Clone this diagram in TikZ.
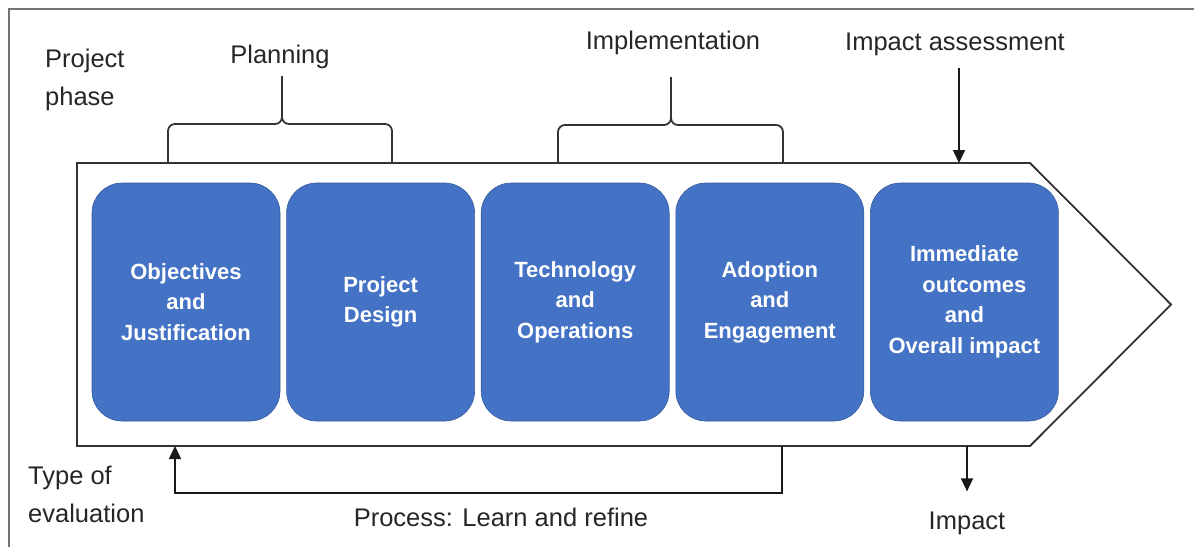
\documentclass[tikz,border=0pt]{standalone}
\usepackage{fontspec}
\setmainfont{Liberation Sans}
\usetikzlibrary{%
	positioning,
	calc,
	arrows.meta
}
\definecolor{stepblue}{HTML}{4472C4}

\begin{document}
\begin{tikzpicture}[x=1pt,y=-1pt,
		SStep/.style={draw=stepblue!80!black,line width=.6pt,fill=stepblue,rounded corners=30pt,minimum width=188pt,minimum height=238pt,text=white,font=\fontsize{22}{30.5}\selectfont\bfseries,align=center,inner sep=0pt},
		title/.style={font=\fontsize{25.5}{38}\selectfont,text=black!85,inner sep=0pt},
		outside/.style={draw=black!80,line width=1.8pt},
		brace/.style={draw=black!80,line width=1.8pt,rounded corners=7pt},
		tip/.style={draw=black!90,line width=1.6pt,-{Triangle[length=13pt,width=12pt]}}
	]

		\useasboundingbox (0,0) rectangle (1194,547);
		\draw[black!55,line width=1.4pt] (9,547) |- (1194,9);

		% the long arrow
		\coordinate (C-tl) at (77,163);
		\coordinate (C-tr) at (1030,163);
		\coordinate (C-tip) at (1171,304.5);
		\coordinate (C-br) at (1030,446);
		\coordinate (C-bl) at (77,446);
		\draw[outside] (C-tl) -- (C-tr) -- (C-tip) -- (C-br) -- (C-bl) -- cycle;

		\node(1) [SStep] at (186,302) {Objectives\\and\\Justification};
		\node(2) [SStep, right= 6pt of 1] {Project\\Design};
		\node(3) [SStep, right= 6pt of 2] {Technology\\and\\Operations};
		\node(4) [SStep, right= 6pt of 3] {Adoption\\and\\Engagement};
		\node(5) [SStep, right= 6pt of 4] {Immediate\\\hspace*{20pt}outcomes\\and\\Overall impact};

		\node(phase) [title, align=left, anchor=west] at (45,80) {Project\\phase};
		\node(eval) [title, align=left, anchor=west] at (28,494) {Type of\\evaluation};

		% braces
		\node(plan) [title] at (280,57) {Planning};
		\coordinate (plan-l) at (168,163);
		\coordinate (plan-r) at (392,163);
		\coordinate (plan-c) at (282,124);
		\draw[brace] (plan-l) |- (plan-c) -- ($(plan.south)+(2,7)$);
		\draw[brace] (plan-r) |- (plan-c) -- ($(plan.south)+(2,7)$);

		\node(impl) [title] at (673,43) {Implementation};
		\coordinate (impl-l) at (558,163);
		\coordinate (impl-r) at (783,163);
		\coordinate (impl-c) at (671,125);
		\draw[brace] (impl-l) |- (impl-c) -- (671,77);
		\draw[brace] (impl-r) |- (impl-c) -- (671,77);

		\node(assess) [title] at (955,44) {Impact assessment};
		\coordinate (assess-end) at (959,163);
		\draw[tip] (assess-end |- 0,68) -- (assess-end);

		\node(impact) [title] at (967,523) {Impact};
		\coordinate (impact-start) at (967,446);
		\draw[tip] (impact-start) -- ($(impact.north)+(0,-20)$);

		% feedback loop
		\node(process) [title] at (501,517) {Process: Learn and refine};
		\coordinate (back-start) at (782,446);
		\coordinate (back-end) at (175,446);
		\draw[tip] (back-start) -- ++(0,47) -| (back-end);

\end{tikzpicture}
\end{document}
